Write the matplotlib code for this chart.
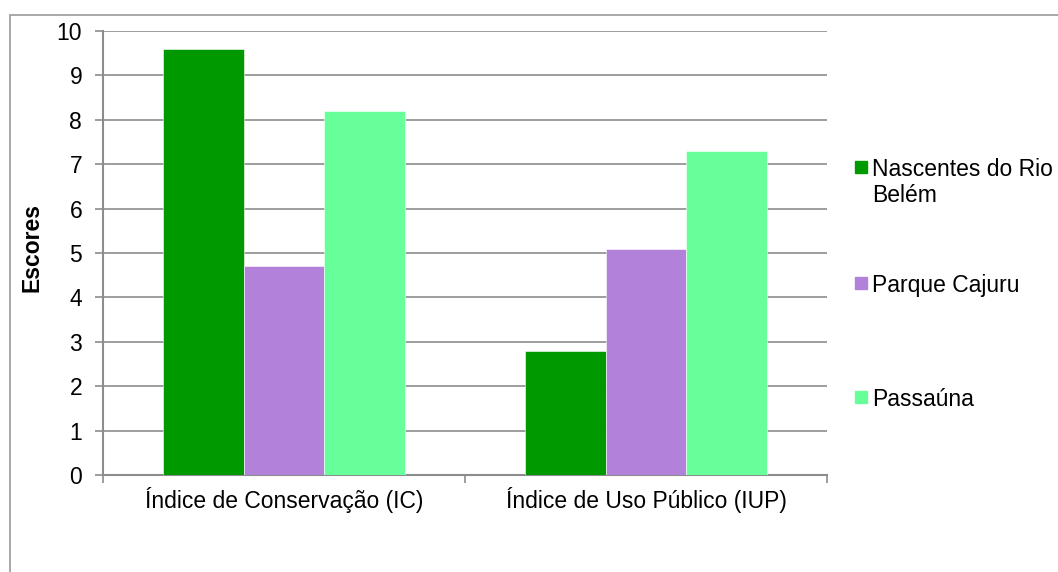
import numpy as np
import matplotlib
matplotlib.use('Agg')
import matplotlib.pyplot as plt
from matplotlib.patches import Rectangle

plt.rcParams['font.family'] = ['Liberation Sans', 'DejaVu Sans']

categorias = ['Índice de Conservação (IC)', 'Índice de Uso Público (IUP)']
series = ['Nascentes do Rio\nBelém', 'Parque Cajuru', 'Passaúna']
nascentes = [9.6, 2.8]
cajuru = [4.7, 5.1]
passauna = [8.2, 7.3]
cores = ['#009900', '#B281DA', '#66FF99']

FS = 16.5
W, H = 1058, 572
fig = plt.figure(figsize=(W / 100, H / 100), dpi=100)
ax = fig.add_axes([103 / W, 1 - 475 / H, (827 - 103) / W, (475 - 31) / H])

# moldura externa do gráfico
fig.patches.append(Rectangle((10 / W, -0.01), 1.0, 1 - 15 / H + 0.01,
                             transform=fig.transFigure, fill=False,
                             edgecolor='#9a9a9a', linewidth=1.2))

x = np.arange(len(categorias))
largura = 1 / 4.5
valores = [nascentes, cajuru, passauna]
for i, (vals, cor) in enumerate(zip(valores, cores)):
    ax.bar(x + (i - 1) * largura, vals, largura, color=cor, zorder=3,
           edgecolor='white', linewidth=0.4)

ax.set_xlim(-0.5, 1.5)
ax.set_ylim(0, 10)
ax.set_yticks(range(0, 11))
ax.yaxis.grid(True, color='#8c8c8c', linewidth=1.2, zorder=0)
ax.set_axisbelow(True)

for s in ['top', 'right']:
    ax.spines[s].set_visible(False)
for s in ['left', 'bottom']:
    ax.spines[s].set_color('#8c8c8c')
    ax.spines[s].set_linewidth(1.5)

ax.tick_params(axis='y', direction='out', length=6, width=1.2, color='#8c8c8c',
               labelsize=FS, pad=9)
ax.set_xticks([-0.5, 0.5, 1.5])
ax.set_xticklabels([])
ax.tick_params(axis='x', direction='out', length=6, width=1.2, color='#8c8c8c')
for xi, nome in zip(x, categorias):
    ax.text(xi, -0.28, nome, ha='center', va='top', fontsize=FS,
            transform=ax.transData)

fig.text(32 / W, 1 - 248 / H, 'Escores', rotation=90, ha='center', va='center',
         fontsize=FS, fontweight='bold')

# legenda à direita
leg_y = [167, 283, 397]
for nome, cor, yy in zip(series, cores, leg_y):
    fig.patches.append(Rectangle((855 / W, 1 - (yy + 6) / H), 12 / W, 12 / H,
                                 transform=fig.transFigure, color=cor))
    fig.text(872 / W, 1 - (yy - 9) / H, nome, ha='left', va='top',
             fontsize=FS, linespacing=1.15)

fig.savefig('out.png', dpi=100)
